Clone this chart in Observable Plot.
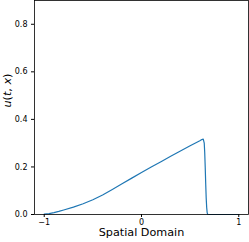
<!DOCTYPE html>
<html><head><meta charset="utf-8">
<script src="https://cdn.jsdelivr.net/npm/d3@7"></script>
<script src="https://cdn.jsdelivr.net/npm/@observablehq/plot@0.6"></script>
<style>body{margin:0;background:#fff}</style>
</head><body><div id="chart"></div>
<script>
const xs = [-1, -0.95, -0.9, -0.85, -0.8, -0.7, -0.6, -0.5, -0.4, -0.3, -0.2, -0.1, 0, 0.1, 0.2, 0.3, 0.4, 0.5, 0.6, 0.62, 0.635, 0.645, 0.65, 0.655, 0.66, 0.665, 0.67, 0.675, 0.68, 0.7, 0.8, 0.9, 1];
const us = [0.002, 0.004, 0.008, 0.013, 0.019, 0.031, 0.045, 0.062, 0.082, 0.105, 0.129, 0.153, 0.177, 0.2, 0.222, 0.245, 0.267, 0.289, 0.31, 0.315, 0.317, 0.3, 0.26, 0.2, 0.13, 0.07, 0.03, 0.008, 0.001, 0, 0, 0, 0];
const xTicks = [-1, 0, 1];
const yTicks = [0, 0.2, 0.4, 0.6, 0.8];
const xLabel = "Spatial Domain";
const yLabel = "u(t, x)";
const data = xs.map((x, i) => ({x, u: us[i]}));
const minusFmt = d => d < 0 ? "\u2212" + Math.abs(d) : String(d);

const chart = Plot.plot({
  width: 249, height: 242,
  marginLeft: 34, marginRight: 1, marginTop: 0, marginBottom: 28,
  style: {fontFamily: "DejaVu Sans", fontSize: "8px", color: "#000", background: "#fff"},
  x: {domain: [-1.1, 1.1]},
  y: {domain: [0, 0.9]},
  marks: [
    Plot.line(data, {x: "x", y: "u", stroke: "#1f77b4", strokeWidth: 1.2}),
    Plot.axisX({ticks: xTicks, tickSize: 3, tickPadding: 2, tickFormat: minusFmt, label: null, fontSize: 8}),
    Plot.axisY({ticks: yTicks, tickSize: 3, tickPadding: 4, tickFormat: d3.format(".1f"), label: null, fontSize: 8}),
    Plot.frame({stroke: "#000", strokeWidth: 0.8}),
    Plot.text([xLabel], {frameAnchor: "bottom", dy: 21.5, fontSize: 11.2, fill: "#000"}),
    Plot.text([yLabel], {frameAnchor: "left", dx: -27, rotate: -90, fontSize: 11.2, fill: "#000"})
  ]
});
d3.select(chart).selectAll("text").filter(function() { return this.textContent === yLabel; }).each(function() {
  const t = d3.select(this);
  t.text(null);
  [["u", true], ["(", false], ["t", true], [", ", false], ["x", true], [")", false]].forEach(([s, it]) => {
    t.append("tspan").attr("font-style", it ? "italic" : "normal").text(s);
  });
});
document.getElementById("chart").appendChild(chart);
</script>
</body></html>
